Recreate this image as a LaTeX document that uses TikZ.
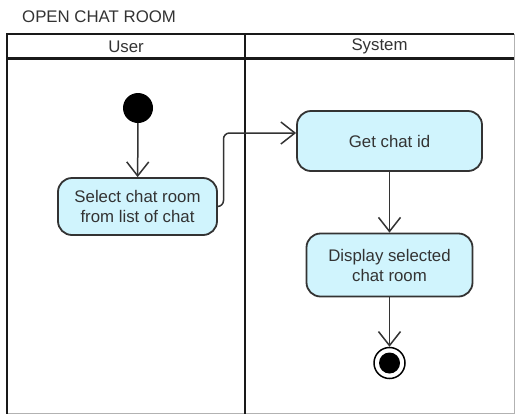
\documentclass[tikz,border=0pt]{standalone}
\usepackage{fontspec}
\setmainfont{Liberation Sans}
\usetikzlibrary{arrows.meta}
\definecolor{actfill}{HTML}{D0F4FD}
\definecolor{ink}{HTML}{333333}
\begin{document}
\begin{tikzpicture}[x=1pt,y=-1pt,
  lane/.style={line width=2.5pt,draw=black!90},
  activity/.style={draw=ink,line width=1.8pt,fill=actfill,rounded corners=14pt,
    text=ink,font=\fontsize{16.8}{20}\selectfont,align=center,inner sep=0pt},
  flow/.style={draw=ink,line width=1.5pt,-{Straight Barb[length=14pt,width=22pt,line width=1.5pt]}},
  lanetext/.style={text=ink,font=\fontsize{16.8}{20}\selectfont}]
\useasboundingbox (0,0) rectangle (516,416);
\fill[white] (0,0) rectangle (516,416);

% title
\node[lanetext,anchor=west,inner sep=0pt] (title) at (22,17) {OPEN CHAT ROOM};

% swimlane frame
\draw[gray!60,line width=1pt] (514,34) -- (514,413.5) -- (7,413.5);
\draw[lane] (7,413.5) -- (7,34) -- (514,34);
\draw[lane] (7,58.5) -- (514,58.5);
\draw[lane] (245,34) -- (245,413.5);
\node[lanetext] (user) at (126,46.5) {User};
\node[lanetext] (system) at (379.5,46.5) {System};

% start state
\node[circle,fill=black,minimum size=30pt,inner sep=0pt] (start) at (138,108) {};

% activities
\node[activity,minimum width=159pt,minimum height=57pt] (select) at (137.5,206.5)
  {Select chat room\\from list of chat};
\node[activity,minimum width=185pt,minimum height=60pt] (getid) at (389.5,141)
  {Get chat id};
\node[activity,minimum width=166pt,minimum height=63pt] (display) at (389.5,265)
  {Display selected\\chat room};

% final state
\node[circle,draw=black,line width=1.5pt,fill=white,minimum size=31pt,inner sep=0pt] (final) at (389.5,363) {};
\node[circle,fill=black,minimum size=21pt,inner sep=0pt] (finaldot) at (final) {};

% flows
\draw[flow] (start) -- (select);
\coordinate (bend) at (223.5,133);
\draw[flow,rounded corners=6pt] (select.east) -- (select.east -| bend) -- (bend) -- (getid.west |- bend);
\draw[flow] (getid) -- (display);
\draw[flow] (display) -- (final);
\end{tikzpicture}
\end{document}
